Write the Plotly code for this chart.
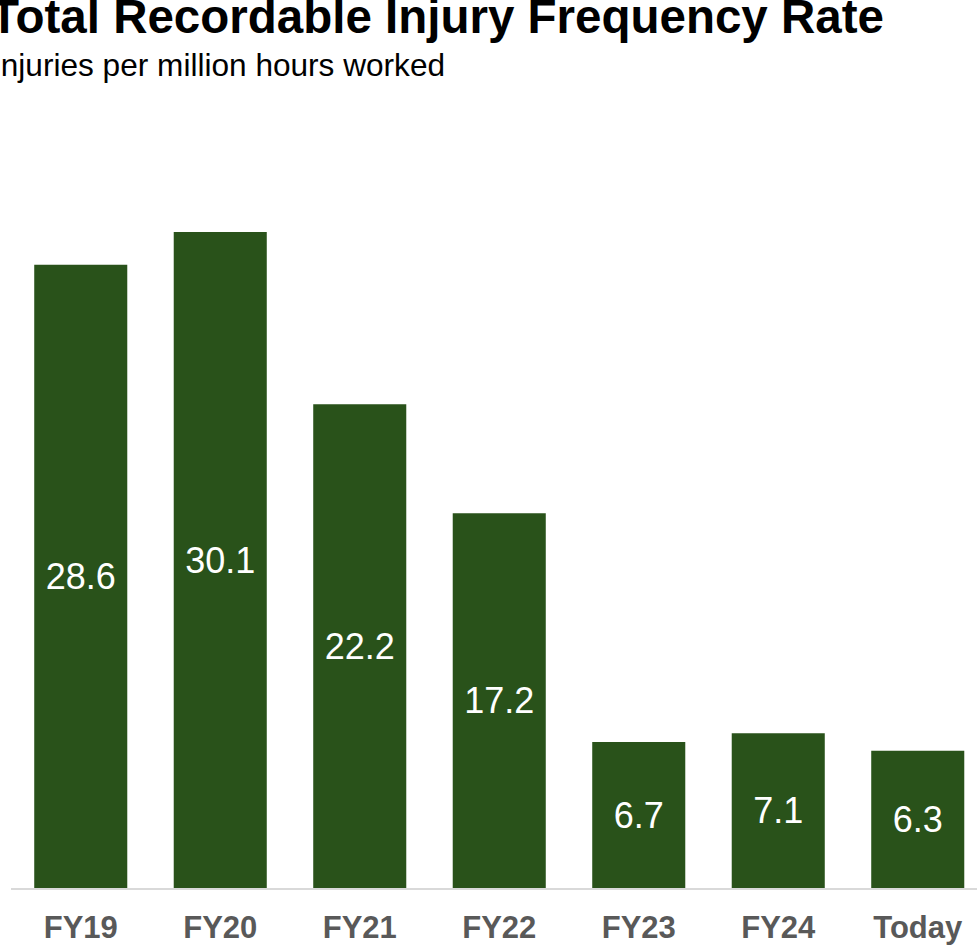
import plotly.graph_objects as go

categories = ["FY19", "FY20", "FY21", "FY22", "FY23", "FY24", "Today"]
values = [28.6, 30.1, 22.2, 17.2, 6.7, 7.1, 6.3]
labels = ["28.6", "30.1", "22.2", "17.2", "6.7", "7.1", "6.3"]

title_text = "Total Recordable Injury Frequency Rate"
subtitle_text = "Injuries per million hours worked"

W, H = 977, 946
ML, MR, MT, MB = 11, 0, 125, 58
plot_w = W - ML - MR
plot_h = H - MT - MB
cat_px = 139.5

def px_to_paper_x(px):
    return (px - ML) / plot_w

def px_to_paper_y(py):
    return (H - MB - py) / plot_h

fig = go.Figure(
    go.Bar(
        x=categories,
        y=values,
        text=labels,
        texttemplate="%{text}",
        textposition="inside",
        insidetextanchor="middle",
        textangle=0,
        textfont=dict(family="Liberation Sans, Arial, sans-serif", size=36, color="white"),
        marker=dict(color="#29521A", line=dict(width=0)),
        width=0.667,
        cliponaxis=False,
        hoverinfo="skip",
    )
)

fig.update_layout(
    width=W,
    height=H,
    margin=dict(l=ML, r=MR, t=MT, b=MB, pad=0),
    paper_bgcolor="white",
    plot_bgcolor="white",
    showlegend=False,
    uniformtext=dict(minsize=10, mode="show"),
    font=dict(family="Liberation Sans, Arial, sans-serif"),
    xaxis=dict(
        range=[-0.5, -0.5 + plot_w / cat_px],
        showgrid=False,
        showline=True,
        linecolor="#D9D9D9",
        linewidth=2,
        ticks="",
        tickfont=dict(family="Liberation Sans, Arial, sans-serif", size=31, color="#595959", weight="bold"),
        ticklabelstandoff=11,
        zeroline=False,
    ),
    yaxis=dict(
        range=[0, (H - MT - MB) / 21.79],
        visible=False,
        showgrid=False,
        zeroline=False,
    ),
    annotations=[
        dict(
            text="<b>" + title_text + "</b>",
            xref="paper", yref="paper",
            x=px_to_paper_x(-12), y=px_to_paper_y(16),
            xanchor="left", yanchor="middle",
            showarrow=False,
            font=dict(family="Liberation Sans, Arial, sans-serif", size=47.5, color="black"),
        ),
        dict(
            text=subtitle_text,
            xref="paper", yref="paper",
            x=px_to_paper_x(-10), y=px_to_paper_y(65),
            xanchor="left", yanchor="middle",
            showarrow=False,
            font=dict(family="Liberation Sans, Arial, sans-serif", size=31.6, color="black"),
        ),
    ],
)

fig.write_html(
    "out.html",
    config={"displayModeBar": False, "staticPlot": True},
    post_script="document.body.style.margin='0';document.body.style.overflow='hidden';",
)
